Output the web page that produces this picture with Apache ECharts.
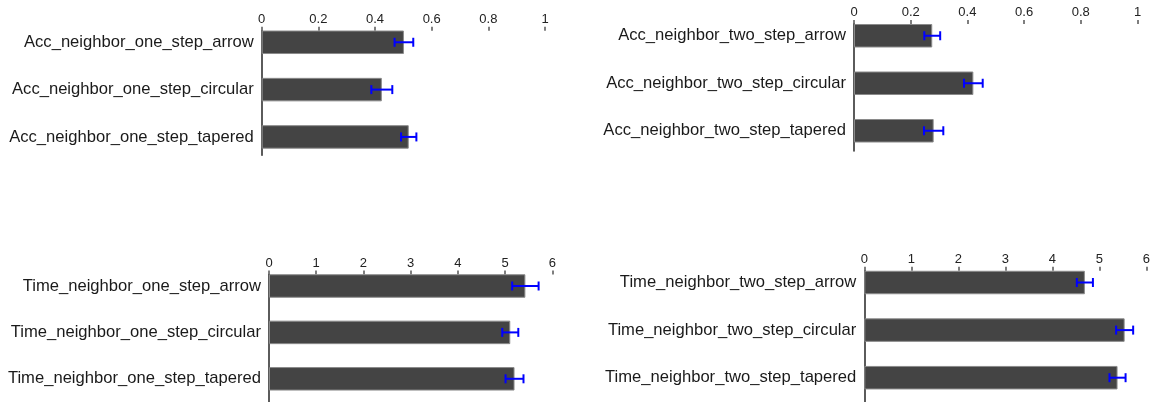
<!DOCTYPE html>
<html>
<head>
<meta charset="utf-8">
<script src="https://cdn.jsdelivr.net/npm/echarts@6/dist/echarts.min.js"></script>
<style>
  html, body { margin: 0; padding: 0; background: #fff; }
  #chart { width: 1153px; height: 402px; }
</style>
</head>
<body>
<div id="chart"></div>
<script>
// Accuracy (proportion correct) for the neighbour tasks
const accOneCats = ['Acc_neighbor_one_step_arrow', 'Acc_neighbor_one_step_circular', 'Acc_neighbor_one_step_tapered'];
const accOneMean = [0.502, 0.424, 0.519];
const accOneErr  = [0.033, 0.037, 0.027];

const accTwoCats = ['Acc_neighbor_two_step_arrow', 'Acc_neighbor_two_step_circular', 'Acc_neighbor_two_step_tapered'];
const accTwoMean = [0.276, 0.421, 0.281];
const accTwoErr  = [0.028, 0.033, 0.034];

// Completion time (seconds) for the neighbour tasks
const timeOneCats = ['Time_neighbor_one_step_arrow', 'Time_neighbor_one_step_circular', 'Time_neighbor_one_step_tapered'];
const timeOneMean = [5.43, 5.11, 5.20];
const timeOneErr  = [0.28, 0.17, 0.19];

const timeTwoCats = ['Time_neighbor_two_step_arrow', 'Time_neighbor_two_step_circular', 'Time_neighbor_two_step_tapered'];
const timeTwoMean = [4.66, 5.50, 5.35];
const timeTwoErr  = [0.17, 0.18, 0.17];

// Axis ranges
const accTicks  = { min: 0, max: 1, interval: 0.2 };
const timeTicks = { min: 0, max: 6, interval: 1 };

const FONT = '"Liberation Sans", Arial, sans-serif';
const BAR_COLOR = '#444444';
const ERR_COLOR = '#0000ff';

// Panel layout: bar grid (category bands) and frame grid (ticks + vertical axis line)
const panels = [
  { cats: accOneCats,  mean: accOneMean,  err: accOneErr,  ticks: accTicks,
    left: 261.7, width: 283.3, barTop: 18.6,  barH: 142.0, frameTop: 30.7,  frameH: 124.5 },
  { cats: accTwoCats,  mean: accTwoMean,  err: accTwoErr,  ticks: accTicks,
    left: 854.0, width: 283.5, barTop: 12.0,  barH: 142.5, frameTop: 24.0,  frameH: 127.0 },
  { cats: timeOneCats, mean: timeOneMean, err: timeOneErr, ticks: timeTicks,
    left: 269.0, width: 283.3, barTop: 262.8, barH: 142.0, frameTop: 274.5, frameH: 140.0 },
  { cats: timeTwoCats, mean: timeTwoMean, err: timeTwoErr, ticks: timeTicks,
    left: 864.3, width: 284.0, barTop: 258.7, barH: 142.8, frameTop: 270.7, frameH: 140.0 }
];

const grid = [], xAxis = [], yAxis = [], series = [];

panels.forEach(function (p) {
  const gBars = grid.length;
  grid.push({ left: p.left, top: p.barTop, width: p.width, height: p.barH });
  const gFrame = grid.length;
  grid.push({ left: p.left, top: p.frameTop, width: p.width, height: p.frameH });

  // bar grid axes: hidden value scale, category labels on the left
  xAxis.push({
    gridIndex: gBars, type: 'value', min: p.ticks.min, max: p.ticks.max, interval: p.ticks.interval,
    show: false
  });
  yAxis.push({
    gridIndex: gBars, type: 'category', data: p.cats, inverse: true,
    axisLine: { show: false }, axisTick: { show: false },
    axisLabel: { show: true, margin: 8, color: '#1a1a1a', fontFamily: FONT, fontSize: 16.6 }
  });

  // frame grid axes: value ticks on top, vertical baseline
  xAxis.push({
    gridIndex: gFrame, type: 'value', position: 'top',
    min: p.ticks.min, max: p.ticks.max, interval: p.ticks.interval,
    axisLine: { show: false },
    axisTick: { show: true, length: 4, lineStyle: { color: '#555', width: 1.5 } },
    axisLabel: { margin: 5, color: '#222', fontFamily: FONT, fontSize: 13,
                 formatter: function (v) { return String(+v.toFixed(1)); } },
    splitLine: { show: false }
  });
  yAxis.push({
    gridIndex: gFrame, type: 'category', data: p.cats, inverse: true,
    axisLine: { show: true, lineStyle: { color: '#333', width: 1.6 } },
    axisTick: { show: false }, axisLabel: { show: false }
  });

  series.push({
    type: 'bar', xAxisIndex: gBars, yAxisIndex: gBars,
    data: p.mean, barWidth: 23.5,
    itemStyle: { color: BAR_COLOR, borderColor: '#8a8a8a', borderWidth: 1 },
    silent: true, z: 2
  });

  // error bars: mean ± err with end caps
  series.push({
    type: 'custom', xAxisIndex: gBars, yAxisIndex: gBars, z: 5, silent: true,
    data: p.mean.map(function (m, k) { return [m - p.err[k], m + p.err[k], k]; }),
    encode: { x: [0, 1], y: 2 },
    renderItem: function (params, api) {
      const lo = api.coord([api.value(0), api.value(2)]);
      const hi = api.coord([api.value(1), api.value(2)]);
      const h = 4.5;
      const style = { stroke: ERR_COLOR, lineWidth: 2 };
      return {
        type: 'group',
        children: [
          { type: 'line', shape: { x1: lo[0], y1: lo[1], x2: hi[0], y2: hi[1] }, style: style },
          { type: 'line', shape: { x1: lo[0], y1: lo[1] - h, x2: lo[0], y2: lo[1] + h }, style: style },
          { type: 'line', shape: { x1: hi[0], y1: hi[1] - h, x2: hi[0], y2: hi[1] + h }, style: style }
        ]
      };
    }
  });
});

const chart = echarts.init(document.getElementById('chart'), null, { renderer: 'canvas' });
chart.setOption({
  animation: false,
  backgroundColor: '#ffffff',
  grid: grid,
  xAxis: xAxis,
  yAxis: yAxis,
  series: series
});
</script>
</body>
</html>
